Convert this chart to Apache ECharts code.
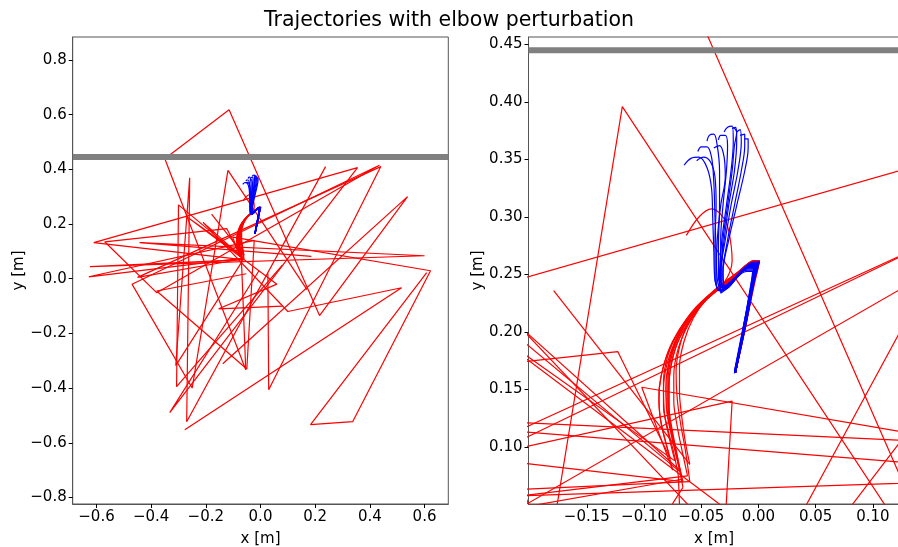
<!DOCTYPE html>
<html>
<head>
<meta charset="utf-8">
<script src="https://cdn.jsdelivr.net/npm/echarts@6/dist/echarts.min.js"></script>
<style>
  html, body { margin: 0; padding: 0; background: #fff; }
  #chart { width: 898px; height: 547px; }
</style>
</head>
<body>
<div id="chart"></div>
<script>
// Wall position (y, metres)
const wallY = 0.445;

// Axis extents [min, max] for the full view and the close-up
const fullXRange = [-0.687, 0.687];
const fullYRange = [-0.824, 0.884];
const zoomXRange = [-0.201, 0.1233];
const zoomYRange = [0.0505, 0.4565];

// Tick values for each panel
const fullXTicks = [-0.6, -0.4, -0.2, 0.0, 0.2, 0.4, 0.6];
const fullYTicks = [-0.8, -0.6, -0.4, -0.2, 0.0, 0.2, 0.4, 0.6, 0.8];
const zoomXTicks = [-0.15, -0.10, -0.05, 0.00, 0.05, 0.10];
const zoomYTicks = [0.10, 0.15, 0.20, 0.25, 0.30, 0.35, 0.40, 0.45];

// Unperturbed reaches (x, y) in metres
const baselinePaths = [
  [[-0.020,0.165],[-0.013,0.205],[-0.006,0.240],[-0.004,0.256],[-0.012,0.255],[-0.024,0.243],[-0.033,0.236],[-0.038,0.245],[-0.039,0.270],[-0.040,0.300],[-0.041,0.325],[-0.045,0.343],[-0.052,0.352],[-0.059,0.351],[-0.065,0.345]],
  [[-0.020,0.165],[-0.012,0.205],[-0.005,0.240],[-0.002,0.258],[-0.010,0.257],[-0.023,0.244],[-0.032,0.237],[-0.036,0.246],[-0.037,0.270],[-0.038,0.300],[-0.039,0.330],[-0.041,0.352],[-0.045,0.361],[-0.050,0.361],[-0.053,0.357]],
  [[-0.021,0.166],[-0.013,0.206],[-0.006,0.241],[-0.003,0.257],[-0.011,0.256],[-0.022,0.245],[-0.031,0.238],[-0.035,0.248],[-0.035,0.275],[-0.034,0.310],[-0.034,0.340],[-0.036,0.362],[-0.039,0.372],[-0.043,0.371],[-0.045,0.366]],
  [[-0.020,0.165],[-0.011,0.206],[-0.004,0.242],[0.000,0.260],[-0.008,0.259],[-0.021,0.246],[-0.030,0.238],[-0.033,0.250],[-0.033,0.280],[-0.031,0.310],[-0.028,0.340],[-0.027,0.362],[-0.029,0.371],[-0.033,0.371],[-0.035,0.367]],
  [[-0.020,0.165],[-0.012,0.205],[-0.006,0.240],[-0.003,0.255],[-0.012,0.254],[-0.025,0.240],[-0.033,0.234],[-0.034,0.250],[-0.032,0.280],[-0.028,0.310],[-0.024,0.340],[-0.022,0.365],[-0.023,0.379],[-0.027,0.378],[-0.030,0.374]],
  [[-0.021,0.164],[-0.013,0.204],[-0.007,0.238],[-0.005,0.253],[-0.013,0.252],[-0.026,0.239],[-0.033,0.235],[-0.033,0.250],[-0.030,0.280],[-0.026,0.310],[-0.021,0.340],[-0.019,0.366],[-0.020,0.378],[-0.023,0.377]],
  [[-0.020,0.165],[-0.012,0.206],[-0.005,0.241],[-0.001,0.259],[-0.009,0.258],[-0.022,0.246],[-0.031,0.239],[-0.033,0.252],[-0.029,0.280],[-0.024,0.310],[-0.018,0.340],[-0.015,0.365],[-0.016,0.376],[-0.019,0.374]],
  [[-0.020,0.165],[-0.011,0.207],[-0.004,0.243],[0.001,0.261],[-0.007,0.260],[-0.020,0.247],[-0.029,0.240],[-0.031,0.252],[-0.027,0.280],[-0.021,0.310],[-0.015,0.340],[-0.012,0.362],[-0.012,0.372],[-0.016,0.371]],
  [[-0.020,0.165],[-0.012,0.206],[-0.006,0.240],[-0.003,0.256],[-0.011,0.255],[-0.023,0.243],[-0.030,0.238],[-0.031,0.252],[-0.026,0.280],[-0.019,0.310],[-0.012,0.340],[-0.009,0.360],[-0.009,0.368],[-0.012,0.368]],
  [[-0.021,0.165],[-0.013,0.205],[-0.007,0.239],[-0.004,0.254],[-0.013,0.253],[-0.026,0.240],[-0.035,0.236],[-0.037,0.250],[-0.036,0.280],[-0.033,0.310],[-0.029,0.335],[-0.030,0.352],[-0.034,0.362],[-0.039,0.360]],
  [[-0.020,0.165],[-0.012,0.205],[-0.005,0.241],[-0.002,0.257],[-0.010,0.256],[-0.024,0.242],[-0.034,0.236],[-0.038,0.248],[-0.038,0.280],[-0.037,0.310],[-0.038,0.335],[-0.042,0.348],[-0.048,0.352],[-0.054,0.349]],
  [[-0.020,0.165],[-0.012,0.206],[-0.005,0.242],[-0.001,0.259],[-0.009,0.258],[-0.022,0.245],[-0.031,0.238],[-0.032,0.252],[-0.031,0.280],[-0.027,0.310],[-0.023,0.340],[-0.021,0.362],[-0.019,0.374],[-0.022,0.378]]
];

// Perturbed reaches: smooth opening arc, then the unstable part
const perturbedArcs = [
  [[-0.020,0.165],[-0.012,0.205],[-0.005,0.240],[-0.001,0.258],[-0.006,0.260],[-0.020,0.250],[-0.040,0.235],[-0.057,0.219],[-0.070,0.200],[-0.079,0.180],[-0.083,0.157],[-0.083,0.135],[-0.079,0.115],[-0.074,0.095],[-0.070,0.075]],
  [[-0.020,0.165],[-0.011,0.206],[-0.004,0.242],[0.000,0.259],[-0.005,0.261],[-0.018,0.252],[-0.036,0.238],[-0.053,0.222],[-0.066,0.203],[-0.075,0.182],[-0.079,0.158],[-0.079,0.136],[-0.076,0.115],[-0.072,0.096],[-0.066,0.070]],
  [[-0.020,0.165],[-0.012,0.205],[-0.006,0.240],[-0.002,0.256],[-0.008,0.257],[-0.024,0.245],[-0.045,0.229],[-0.062,0.212],[-0.075,0.192],[-0.083,0.170],[-0.087,0.147],[-0.086,0.127],[-0.082,0.108],[-0.077,0.090]],
  [[-0.020,0.165],[-0.011,0.207],[-0.003,0.244],[0.001,0.262],[-0.004,0.262],[-0.016,0.253],[-0.032,0.241],[-0.048,0.226],[-0.061,0.207],[-0.070,0.186],[-0.074,0.162],[-0.074,0.140],[-0.071,0.118],[-0.067,0.098],[-0.062,0.075]],
  [[-0.021,0.165],[-0.012,0.206],[-0.005,0.241],[-0.001,0.258],[-0.007,0.259],[-0.022,0.248],[-0.042,0.232],[-0.059,0.215],[-0.071,0.196],[-0.078,0.175],[-0.081,0.152],[-0.080,0.130],[-0.076,0.110],[-0.071,0.090],[-0.066,0.065]],
  [[-0.020,0.165],[-0.012,0.206],[-0.004,0.243],[0.000,0.260],[-0.005,0.261],[-0.017,0.252],[-0.034,0.240],[-0.050,0.225],[-0.062,0.207],[-0.069,0.187],[-0.072,0.165],[-0.071,0.142],[-0.068,0.120],[-0.064,0.098],[-0.060,0.070]],
  [[-0.020,0.165],[-0.012,0.205],[-0.006,0.240],[-0.003,0.256],[-0.009,0.256],[-0.026,0.244],[-0.048,0.226],[-0.066,0.206],[-0.078,0.185],[-0.085,0.162],[-0.087,0.140],[-0.085,0.120],[-0.080,0.100],[-0.075,0.080]],
  [[-0.020,0.165],[-0.011,0.206],[-0.004,0.243],[0.000,0.261],[-0.004,0.262],[-0.015,0.254],[-0.030,0.243],[-0.045,0.229],[-0.057,0.212],[-0.065,0.192],[-0.069,0.170],[-0.069,0.148],[-0.067,0.126],[-0.064,0.105],[-0.060,0.085]],
  [[-0.063,0.284],[-0.052,0.300],[-0.041,0.307],[-0.031,0.300],[-0.026,0.288],[-0.023,0.262],[-0.030,0.243],[-0.046,0.228],[-0.060,0.210],[-0.071,0.190],[-0.077,0.167],[-0.079,0.145],[-0.077,0.122],[-0.073,0.100],[-0.069,0.080]],
  [[-0.020,0.165],[-0.012,0.205],[-0.005,0.241],[-0.001,0.258],[-0.007,0.259],[-0.021,0.248],[-0.039,0.234],[-0.055,0.218],[-0.067,0.199],[-0.075,0.178],[-0.078,0.155],[-0.078,0.133],[-0.075,0.113],[-0.071,0.093],[-0.067,0.072]],
  [[-0.020,0.165],[-0.012,0.206],[-0.005,0.242],[-0.001,0.259],[-0.006,0.260],[-0.019,0.251],[-0.037,0.237],[-0.054,0.221],[-0.067,0.202],[-0.076,0.181],[-0.080,0.158],[-0.080,0.136],[-0.077,0.116],[-0.073,0.097],[-0.068,0.078]],
  [[-0.020,0.165],[-0.012,0.205],[-0.006,0.240],[-0.002,0.257],[-0.008,0.258],[-0.023,0.246],[-0.043,0.231],[-0.060,0.214],[-0.072,0.194],[-0.080,0.172],[-0.083,0.150],[-0.082,0.128],[-0.078,0.108],[-0.073,0.088]]
];

const perturbedJumps = [
  [[-0.054,-0.333],[-0.350,0.439],[-0.115,0.618],[0.216,-0.135],[0.538,0.300],[-0.138,-0.311]],
  [[-0.610,0.132],[0.355,0.406],[-0.332,-0.490],[-0.005,0.030]],
  [[-0.123,0.183],[-0.570,0.135],[-0.380,-0.051],[0.435,0.415],[-0.470,-0.020],[-0.250,-0.400],[-0.119,0.396],[0.170,-0.040]],
  [[-0.628,0.007],[-0.023,0.140],[-0.050,-0.330],[-0.380,-0.045],[-0.052,0.018]],
  [[-0.310,-0.318],[-0.259,0.369],[-0.270,-0.523],[0.238,0.410]],
  [[-0.624,0.044],[0.600,0.084],[-0.442,0.132],[0.186,0.082]],
  [[-0.102,0.152],[0.622,0.029],[0.337,-0.523],[0.183,-0.534],[0.608,0.022]],
  [[-0.179,0.236]],
  [[-0.210,0.206],[0.100,-0.120],[0.516,-0.033],[-0.277,-0.552]],
  [[-0.450,0.005],[0.440,0.410],[0.030,-0.406],[0.027,0.020]],
  [[-0.300,0.270],[-0.307,-0.395],[0.080,0.050]],
  [[-0.270,0.227],[0.060,-0.020],[-0.153,-0.110],[0.080,-0.100]]
];

const RED = '#ff0000';
const BLUE = '#0000ff';
const GREY = '#808080';
const FRAME = '#555555';
const FONT = 'DejaVu Sans';

function buildSeries(gridIdx, xRange) {
  const out = [];
  perturbedArcs.forEach((arc, i) => {
    const last = arc[arc.length - 1];
    out.push({
      type: 'line', xAxisIndex: gridIdx, yAxisIndex: gridIdx,
      data: arc, smooth: 0.35, showSymbol: false, silent: true,
      lineStyle: { color: RED, width: 1.2 }, z: 2
    });
    out.push({
      type: 'line', xAxisIndex: gridIdx, yAxisIndex: gridIdx,
      data: [last].concat(perturbedJumps[i]), showSymbol: false, silent: true,
      lineStyle: { color: RED, width: 1.2 }, z: 2
    });
  });
  baselinePaths.forEach(p => {
    out.push({
      type: 'line', xAxisIndex: gridIdx, yAxisIndex: gridIdx,
      data: p, smooth: 0.35, showSymbol: false, silent: true,
      lineStyle: { color: BLUE, width: 1.2 }, z: 3
    });
  });
  // the wall, spanning the visible x extent
  out.push({
    type: 'line', xAxisIndex: gridIdx, yAxisIndex: gridIdx,
    data: [[xRange[0], wallY], [xRange[1], wallY]], showSymbol: false, silent: true,
    lineStyle: { color: GREY, width: 6, cap: 'butt' }, z: 4
  });
  return out;
}

function fmt(d) { return v => (v < 0 ? '\u2212' : '') + Math.abs(v).toFixed(d); }

const nameStyle = { fontFamily: FONT, fontSize: 15, color: '#000' };
const labelBase = { fontFamily: FONT, fontSize: 15, color: '#000', margin: 6 };

function xAxisCfg(gridIndex, range, ticks, d) {
  return {
    type: 'value', gridIndex, min: range[0], max: range[1], position: 'bottom',
    name: 'x [m]', nameLocation: 'middle', nameGap: 28, nameTextStyle: nameStyle,
    axisLine: { show: true, onZero: false, lineStyle: { color: FRAME, width: 1 } },
    splitLine: { show: false },
    axisTick: { show: true, length: 4, customValues: ticks, lineStyle: { color: '#000' } },
    axisLabel: Object.assign({ customValues: ticks, formatter: fmt(d) }, labelBase)
  };
}
function yAxisCfg(gridIndex, range, ticks, d, gap) {
  return {
    type: 'value', gridIndex, min: range[0], max: range[1], position: 'left',
    name: 'y [m]', nameLocation: 'middle', nameGap: gap, nameRotate: 90, nameTextStyle: nameStyle,
    axisLine: { show: true, onZero: false, lineStyle: { color: FRAME, width: 1 } },
    splitLine: { show: false },
    axisTick: { show: true, length: 4, customValues: ticks, lineStyle: { color: '#000' } },
    axisLabel: Object.assign({ customValues: ticks, formatter: fmt(d) }, labelBase)
  };
}

const chart = echarts.init(document.getElementById('chart'), null, { renderer: 'canvas' });
chart.setOption({
  animation: false,
  backgroundColor: '#fff',
  title: {
    text: 'Trajectories with elbow perturbation', left: 'center', top: 5,
    textStyle: { fontFamily: FONT, fontSize: 20.5, fontWeight: 'normal', color: '#000' }
  },
  grid: [
    { left: 72.7, top: 37, width: 375.6, height: 467, show: true, borderColor: FRAME, borderWidth: 1,
      backgroundColor: 'transparent', containLabel: false, outerBoundsMode: 'none' },
    { left: 528.5, top: 37, width: 371, height: 467, show: true, borderColor: FRAME, borderWidth: 1,
      backgroundColor: 'transparent', containLabel: false, outerBoundsMode: 'none' }
  ],
  xAxis: [
    xAxisCfg(0, fullXRange, fullXTicks, 1),
    xAxisCfg(1, zoomXRange, zoomXTicks, 2)
  ],
  yAxis: [
    yAxisCfg(0, fullYRange, fullYTicks, 1, 45),
    yAxisCfg(1, zoomYRange, zoomYTicks, 2, 43)
  ],
  series: buildSeries(0, fullXRange).concat(buildSeries(1, zoomXRange))
});
</script>
</body>
</html>
